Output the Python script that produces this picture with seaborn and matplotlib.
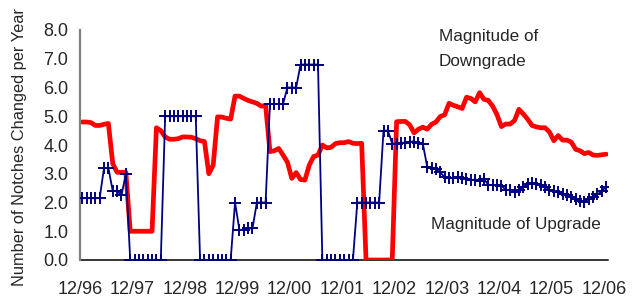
import numpy as np
import pandas as pd
import matplotlib
matplotlib.use("Agg")
import matplotlib.pyplot as plt
from matplotlib import font_manager
import seaborn as sns

# ---------------- data (monthly, 12/96 .. 12/06) ----------------
tick_labels = ["12/96", "12/97", "12/98", "12/99", "12/00", "12/01",
               "12/02", "12/03", "12/04", "12/05", "12/06"]

downgrade = [
    4.80, 4.80, 4.78, 4.68, 4.68, 4.72, 4.75, 3.35, 3.05, 3.05,   # m0-9
    3.05, 1.00, 1.00, 1.00, 1.00, 1.00, 1.00, 4.60, 4.50, 4.28,   # m10-19
    4.20, 4.20, 4.22, 4.28, 4.28, 4.27, 4.22, 4.15, 4.12, 3.00,   # m20-29
    3.30, 4.98, 4.97, 4.93, 4.90, 5.70, 5.70, 5.62, 5.55, 5.50,   # m30-39
    5.45, 5.35, 5.38, 3.77, 3.80, 3.88, 3.65, 3.40, 2.84, 3.04,   # m40-49
    2.80, 2.78, 3.30, 3.60, 3.65, 4.00, 3.90, 3.92, 4.05, 4.08,   # m50-59
    4.08, 4.12, 4.06, 4.05, 4.06, 0.00, 0.00, 0.00, 0.00, 0.00,   # m60-69
    0.00, 0.00, 4.81, 4.82, 4.82, 4.70, 4.42, 4.55, 4.62, 4.55,   # m70-79
    4.72, 4.80, 4.99, 5.05, 5.45, 5.38, 5.33, 5.27, 5.66, 5.62,   # m80-89
    5.50, 5.82, 5.59, 5.55, 5.35, 5.05, 4.64, 4.73, 4.73, 4.85,   # m90-99
    5.24, 5.08, 4.90, 4.68, 4.63, 4.60, 4.60, 4.45, 4.15, 4.33,   # m100-109
    4.17, 4.17, 4.10, 3.85, 3.80, 3.70, 3.74, 3.65, 3.64, 3.66,   # m110-119
    3.68,                                                         # m120
]

upgrade = [
    2.15, 2.15, 2.15, 2.15, 2.15, 3.20, 3.20, 2.40, 2.40, 2.25,   # m0-9
    3.00, 0.00, 0.00, 0.00, 0.00, 0.00, 0.00, 0.00, 0.00, 5.00,   # m10-19
    5.00, 5.00, 5.00, 5.00, 5.00, 5.00, 5.00, 0.00, 0.00, 0.00,   # m20-29
    0.00, 0.00, 0.00, 0.00, 0.00, 2.00, 1.05, 1.05, 1.10, 1.10,   # m30-39
    2.00, 2.00, 2.00, 5.43, 5.43, 5.43, 5.43, 6.00, 6.00, 6.00,   # m40-49
    6.80, 6.80, 6.80, 6.80, 6.80, 0.00, 0.00, 0.00, 0.00, 0.00,   # m50-59
    0.00, 0.00, 0.00, 2.00, 2.00, 2.00, 2.00, 2.00, 2.00, 4.50,   # m60-69
    4.50, 4.05, 4.05, 4.08, 4.08, 4.12, 4.12, 4.08, 4.05, 3.25,   # m70-79
    3.20, 3.15, 3.05, 2.88, 2.85, 2.85, 2.88, 2.85, 2.82, 2.78,   # m80-89
    2.80, 2.75, 2.82, 2.62, 2.60, 2.60, 2.58, 2.45, 2.42, 2.38,   # m90-99
    2.45, 2.55, 2.63, 2.68, 2.66, 2.60, 2.55, 2.45, 2.40, 2.35,   # m100-109
    2.30, 2.25, 2.18, 2.12, 2.05, 2.02, 2.12, 2.20, 2.28, 2.40,   # m110-119
    2.55,                                                         # m120
]

y_ticks = [0, 1, 2, 3, 4, 5, 6, 7, 8]

# ---------------- fonts ----------------
sns.set_style("white")
plt.rcParams["font.family"] = ["Liberation Sans", "DejaVu Sans"]

# ---------------- figure ----------------
W, H = 639, 303
fig = plt.figure(figsize=(W / 100, H / 100), dpi=100)
fig.patch.set_facecolor("white")
ax = fig.add_axes([80 / W, 43 / H, 528.4 / W, 230 / H])
ax.set_facecolor("white")

n = len(downgrade)
month_pos = np.arange(n) + 0.5  # category centres
df = pd.DataFrame({"pos": month_pos, "down": downgrade, "up": upgrade})

sns.lineplot(data=df, x="pos", y="down", ax=ax, color="#ff0000",
             linewidth=3.4, solid_capstyle="round", solid_joinstyle="round", zorder=2)
sns.lineplot(data=df, x="pos", y="up", ax=ax, color="#000080",
             linewidth=1.3, marker="+", markersize=8, markeredgewidth=1.4,
             markeredgecolor="#000080", zorder=3)

ax.set_xlim(0, 121)
ax.set_ylim(0, 8)
ax.set_xlabel("")
ax.set_ylabel("")

ax.set_xticks(np.arange(0, 121, 12))
ax.set_xticklabels(tick_labels, fontsize=13)
ax.set_yticks(y_ticks)
ax.set_yticklabels([f"{v:.1f}" for v in y_ticks], fontsize=13)

for s in ["top", "right"]:
    ax.spines[s].set_visible(False)
ax.spines["left"].set_color("#808080")
ax.spines["left"].set_linewidth(1.6)
ax.spines["bottom"].set_color("black")
ax.spines["bottom"].set_linewidth(1.1)
ax.spines["bottom"].set_zorder(1)

ax.tick_params(axis="y", direction="out", length=6, width=1.2, color="#808080", pad=2.5)
ax.tick_params(axis="x", direction="out", length=4, width=1.0, color="#808080", pad=11)

fig.text(20 / W, 1 - 147 / H, "Number of Notches Changed per Year",
         rotation=90, ha="center", va="center", fontsize=11.8)

ax.text(82.2, 7.77, "Magnitude of", ha="left", va="center", fontsize=12.3)
ax.text(82.2, 6.90, "Downgrade", ha="left", va="center", fontsize=12.3)
ax.text(80.3, 1.22, "Magnitude of Upgrade", ha="left", va="center", fontsize=12.3)

fig.savefig("out.png", dpi=100, facecolor="white")
